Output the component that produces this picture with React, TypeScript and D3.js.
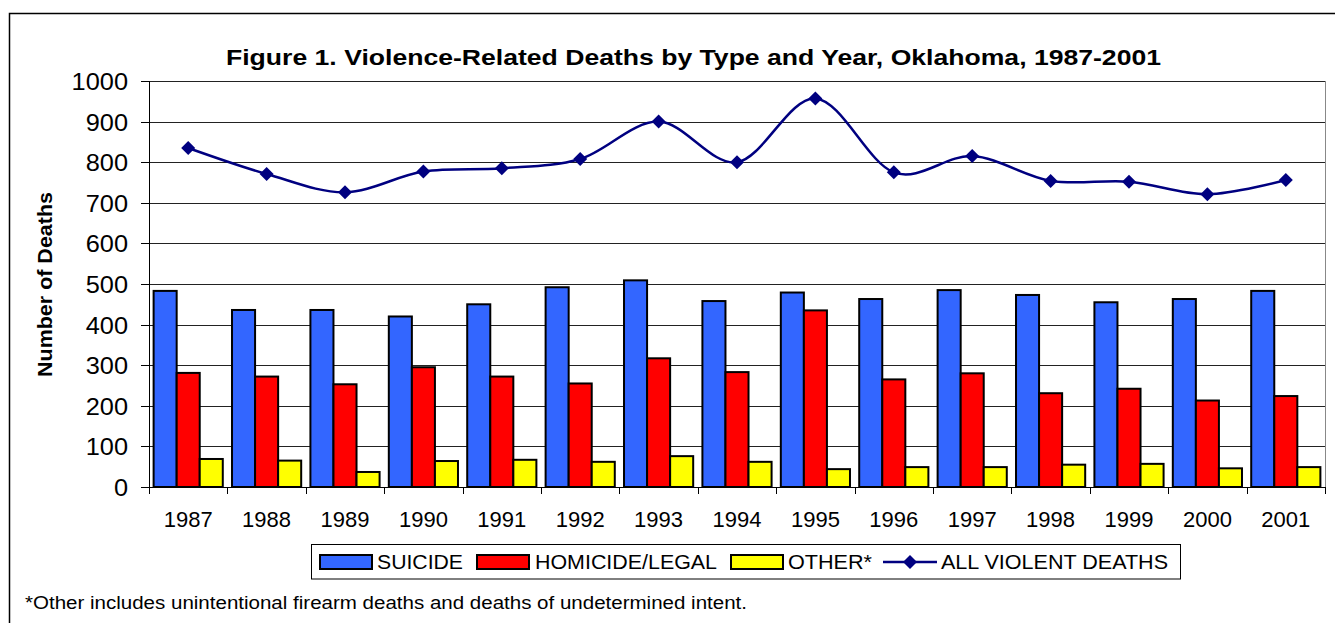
import React from "react";
import * as d3 from "d3";

const years = ["1987", "1988", "1989", "1990", "1991", "1992", "1993", "1994", "1995", "1996", "1997", "1998", "1999", "2000", "2001"];
const suicide = [483, 436, 436, 420, 450, 492, 509, 458, 479, 463, 485, 473, 455, 463, 483];
const homicide = [281, 272, 253, 295, 272, 255, 317, 283, 435, 265, 280, 231, 242, 213, 224];
const other = [69, 65, 37, 64, 67, 62, 76, 62, 44, 49, 49, 55, 57, 46, 49];
const allDeaths = [835, 771, 726, 777, 785, 808, 900, 800, 957, 775, 815, 754, 752, 721, 756];
const yTicks = [0, 100, 200, 300, 400, 500, 600, 700, 800, 900, 1000];

const barSeries = [
  { key: "SUICIDE", values: suicide, color: "#3366FF" },
  { key: "HOMICIDE/LEGAL", values: homicide, color: "#FF0000" },
  { key: "OTHER*", values: other, color: "#FFFF00" },
];

const W = 1335;
const H = 623;
const plot = { left: 149, right: 1325, top: 81, bottom: 487 };
const font = "Arial, 'Liberation Sans', sans-serif";

export default function App() {
  const x = d3.scaleBand().domain(years).range([plot.left, plot.right]);
  const y = d3.scaleLinear().domain([0, 1000]).range([plot.bottom, plot.top]);
  // excel style gap width 40%
  const barW = x.bandwidth() / (barSeries.length + 0.4);
  const gapL = (x.bandwidth() - barW * barSeries.length) / 2;

  const line = d3
    .line<number>()
    .x((_, i) => x(years[i])! + x.bandwidth() / 2)
    .y((d) => y(d))
    .curve(d3.curveCardinal);

  const diamond = (cx: number, cy: number, r: number) =>
    `M${cx},${cy - r}L${cx + r},${cy}L${cx},${cy + r}L${cx - r},${cy}Z`;

  // legend layout (swatch x, text x, text width)
  const legendItems = [
    { label: "SUICIDE", color: "#3366FF", sw: 320, tx: 377, tw: 86 },
    { label: "HOMICIDE/LEGAL", color: "#FF0000", sw: 477, tx: 535, tw: 182 },
    { label: "OTHER*", color: "#FFFF00", sw: 731, tx: 788, tw: 84 },
  ];
  const legY = 562;

  return (
    <svg
      width={W}
      height={H}
      style={{ position: "absolute", left: 0, top: 0, background: "#fff" }}
      fontFamily={font}
    >
      <rect x={9.5} y={13.5} width={1340} height={640} fill="#fff" stroke="#000" strokeWidth={1.5} />

      <text x={226} y={65} fontSize={22} fontWeight="bold" textLength={935} lengthAdjust="spacingAndGlyphs">
        Figure 1. Violence-Related Deaths by Type and Year, Oklahoma, 1987-2001
      </text>

      {/* gridlines */}
      {yTicks.map((t) => (
        <line key={t} x1={plot.left} x2={plot.right} y1={Math.round(y(t)) + 0.5} y2={Math.round(y(t)) + 0.5} stroke="#222" strokeWidth={1} />
      ))}
      <line x1={plot.right + 0.5} x2={plot.right + 0.5} y1={plot.top} y2={plot.bottom} stroke="#888" strokeWidth={1} />

      {/* bars */}
      {barSeries.map((s, si) =>
        s.values.map((v, i) => (
          <rect
            key={s.key + i}
            x={x(years[i])! + gapL + si * barW}
            y={y(v)}
            width={barW}
            height={plot.bottom - y(v)}
            fill={s.color}
            stroke="#000"
            strokeWidth={2}
          />
        ))
      )}

      {/* axes */}
      <line x1={plot.left + 0.5} x2={plot.left + 0.5} y1={plot.top} y2={plot.bottom} stroke="#000" />
      <line x1={plot.left} x2={plot.right} y1={plot.bottom + 0.5} y2={plot.bottom + 0.5} stroke="#000" />
      {yTicks.map((t) => (
        <g key={"yt" + t}>
          <line x1={141} x2={plot.left} y1={Math.round(y(t)) + 0.5} y2={Math.round(y(t)) + 0.5} stroke="#000" />
          <text
            x={128}
            y={y(t) + 9}
            textAnchor="end"
            fontSize={23.5}
            textLength={String(t).length * 14.1}
            lengthAdjust="spacingAndGlyphs"
          >
            {t}
          </text>
        </g>
      ))}
      {years.map((yr) => (
        <g key={"xt" + yr}>
          <line
            x1={Math.round(x(yr)!) + 0.5}
            x2={Math.round(x(yr)!) + 0.5}
            y1={plot.bottom}
            y2={plot.bottom + 7}
            stroke="#000"
          />
          <text x={x(yr)! + x.bandwidth() / 2} y={527} textAnchor="middle" fontSize={22}>
            {yr}
          </text>
        </g>
      ))}
      <line x1={plot.right + 0.5} x2={plot.right + 0.5} y1={plot.bottom} y2={plot.bottom + 7} stroke="#000" />

      <text
        transform={`translate(52,284.5) rotate(-90)`}
        textAnchor="middle"
        fontSize={21}
        fontWeight="bold"
        textLength={185}
        lengthAdjust="spacingAndGlyphs"
      >
        Number of Deaths
      </text>

      {/* total line */}
      <path d={line(allDeaths) ?? ""} fill="none" stroke="#000080" strokeWidth={2.5} />
      {allDeaths.map((v, i) => (
        <path key={"m" + i} d={diamond(x(years[i])! + x.bandwidth() / 2, y(v), 7)} fill="#000080" />
      ))}

      {/* legend */}
      <rect x={311.5} y={544.5} width={869} height={34.5} fill="#fff" stroke="#000" strokeWidth={1} />
      {legendItems.map((it) => (
        <g key={it.label}>
          <rect x={it.sw} y={legY - 7} width={52} height={14} fill={it.color} stroke="#000" strokeWidth={2} />
          <text x={it.tx} y={legY + 7} fontSize={20} textLength={it.tw} lengthAdjust="spacingAndGlyphs">
            {it.label}
          </text>
        </g>
      ))}
      <line x1={883} x2={937} y1={legY} y2={legY} stroke="#000080" strokeWidth={2.5} />
      <path d={diamond(910, legY, 7)} fill="#000080" />
      <text x={941} y={legY + 7} fontSize={20} textLength={227} lengthAdjust="spacingAndGlyphs">
        ALL VIOLENT DEATHS
      </text>

      <text x={25} y={609} fontSize={17.5} textLength={722} lengthAdjust="spacingAndGlyphs">
        *Other includes unintentional firearm deaths and deaths of undetermined intent.
      </text>
    </svg>
  );
}
